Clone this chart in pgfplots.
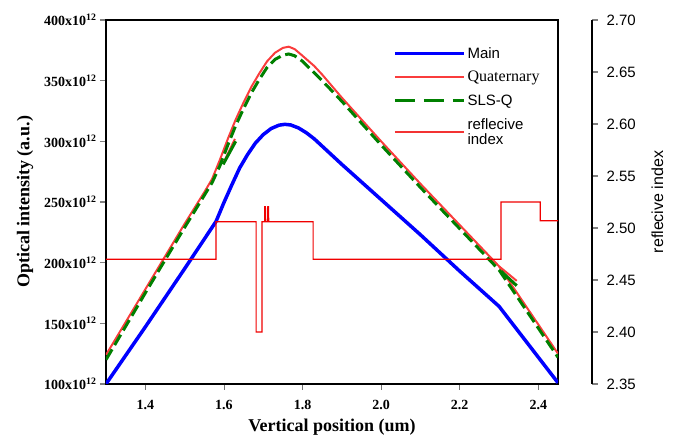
\documentclass[border=0pt]{standalone}
\usepackage{pgfplots}
\pgfplotsset{compat=1.18}
\usepackage{fontspec}
\setmainfont{Liberation Serif}
\setsansfont{Liberation Sans}

\definecolor{mainblue}{RGB}{0,0,255}
\definecolor{quatred}{RGB}{250,60,60}
\definecolor{slsgreen}{RGB}{0,128,0}
\definecolor{indexred}{RGB}{240,0,0}

\begin{document}
\begin{tikzpicture}
% frame of the reference picture
\path (-106pt,-54pt) rectangle (575pt,384pt);

\begin{axis}[
    at={(0pt,0pt)}, anchor=south west,
    scale only axis, width=452pt, height=364pt,
    xmin=1.3, xmax=2.45, ymin=100, ymax=400,
    axis line style={line width=2.2pt},
    xtick={1.4,1.6,1.8,2.0,2.2,2.4},
    ytick={100,150,200,250,300,350,400},
    yticklabels={100x10\textsuperscript{12},150x10\textsuperscript{12},200x10\textsuperscript{12},250x10\textsuperscript{12},300x10\textsuperscript{12},350x10\textsuperscript{12},400x10\textsuperscript{12}},
    tick align=outside, xtick pos=bottom, ytick pos=left,
    major tick length=6pt,
    ytick style={line width=1.2pt},
    xtick style={line width=0.8pt, black!55},
    x tick label style={font=\fontsize{14}{16}\selectfont\bfseries, yshift=-9pt, inner sep=1pt,
        /pgf/number format/.cd, fixed, fixed zerofill, precision=1, assume math mode=true},
    y tick label style={font=\fontsize{14}{16}\selectfont\bfseries},
    xlabel={Vertical position (um)},
    ylabel={Optical intensity (a.u.)},
    xlabel shift=7pt,
    ylabel shift=4pt,
    xlabel style={inner sep=1pt},
    label style={font=\fontsize{18}{20}\selectfont\bfseries},
    legend cell align=left,
    legend style={at={(0.628,0.936)}, anchor=north west, draw=none, fill=none,
        font=\sffamily\fontsize{15}{15.5}\selectfont, row sep=7.5pt,
        cells={align=left},
        /tikz/every even column/.append style={column sep=4pt}},
    legend image code/.code={\draw[#1] (0pt,0pt) -- (69pt,0pt);},
]
\addplot[mainblue, line width=3.5pt, line join=round] table {
x y
1.30 100
1.40 147
1.50 195
1.58 234
1.60 249.5
1.62 264
1.64 278
1.66 289
1.68 298.5
1.70 305.5
1.72 310.5
1.74 313.3
1.755 314
1.77 313.5
1.79 311
1.81 307
1.83 302
1.90 281
2.00 252
2.10 223
2.20 193
2.30 164
2.35 143
2.40 122
2.45 101
};
\addlegendentry{Main}
\addplot[quatred, line width=2pt, line join=round] table {
x y
1.30 124
1.35 151
1.40 178
1.45 205
1.50 232
1.55 258
1.57 269
1.59 285
1.61 302
1.63 318
1.65 332
1.67 345
1.69 356
1.71 366
1.73 373
1.75 377
1.765 378
1.78 376
1.80 370.5
1.83 362
1.85 355
1.90 336
2.00 300
2.10 265
2.20 231
2.30 197
2.35 173
2.40 149
2.45 125
};
\addlegendentry{\rmfamily\fontsize{16}{17}\selectfont Quaternary}
\addplot[slsgreen, line width=3pt, line join=round, dash pattern=on 12pt off 5pt,
    legend image post style={dash pattern=on 20pt off 9pt}] table {
x y
1.30 120
1.40 175
1.50 229
1.57 266
1.59 280
1.61 297
1.63 313
1.65 327
1.67 340
1.69 351
1.71 361
1.73 367.5
1.75 371
1.765 372
1.78 370.5
1.80 366
1.85 350
1.90 333
2.00 297
2.10 262
2.20 228
2.30 194
2.35 170
2.40 146
2.45 122
};
\addlegendentry{SLS-Q}
% short stray pieces of the curves
\addplot[quatred, line width=2pt, forget plot] table {
x y
1.600 283
1.628 302
};
\addplot[slsgreen, line width=3pt, forget plot] table {
x y
1.598 281
1.630 300
};
\addplot[quatred, line width=2pt, forget plot] table {
x y
2.300 197
2.345 185
};
\addplot[slsgreen, line width=3pt, forget plot] table {
x y
2.305 193
2.345 181
};
\addlegendimage{indexred!80, line width=2pt}
\addlegendentry{reflecive\\index}
\end{axis}

\begin{axis}[
    at={(0pt,0pt)}, anchor=south west,
    scale only axis, width=452pt, height=364pt,
    xmin=1.3, xmax=2.45, ymin=2.35, ymax=2.70,
    hide axis,
]
\addplot[indexred, line width=1.2pt] table {
x y
1.300 2.470
1.580 2.470
1.580 2.506
1.682 2.506
1.682 2.400
1.697 2.400
1.697 2.506
1.7035 2.506
1.704 2.521
1.7048 2.510
1.7055 2.521
1.706 2.506
1.711 2.506
1.7118 2.521
1.7125 2.510
1.7133 2.521
1.714 2.506
1.827 2.506
1.827 2.470
2.305 2.470
2.305 2.525
2.405 2.525
2.405 2.507
2.450 2.507
};
\end{axis}

\begin{axis}[
    at={(486pt,0pt)}, anchor=south east,
    scale only axis, width=1pt, height=364pt,
    xmin=0, xmax=1, ymin=2.35, ymax=2.70,
    axis x line=none, axis y line*=right,
    y axis line style={line width=1.3pt},
    ytick={2.35,2.40,2.45,2.50,2.55,2.60,2.65,2.70},
    tick align=outside, major tick length=6pt,
    ytick style={line width=1.1pt},
    y tick label style={font=\sffamily\fontsize{15}{17}\selectfont, xshift=5pt,
        /pgf/number format/.cd, fixed, fixed zerofill, precision=2, assume math mode=true},
    ylabel={reflecive index},
    ylabel shift=9pt,
    ylabel style={font=\sffamily\fontsize{16}{18}\selectfont},
]
\end{axis}
\end{tikzpicture}
\end{document}
